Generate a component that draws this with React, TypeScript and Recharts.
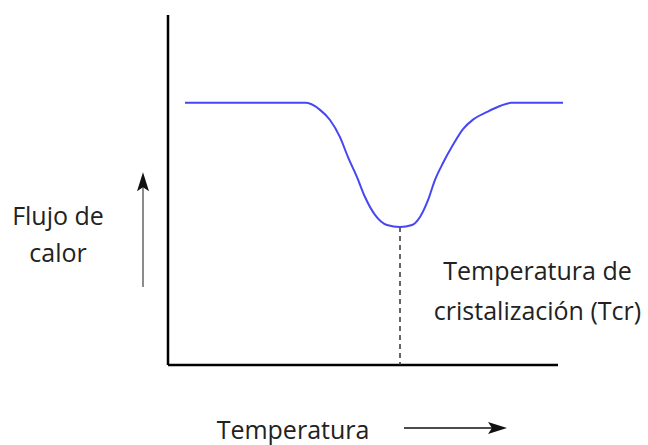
import { LineChart, Line, XAxis, YAxis, ReferenceLine } from 'recharts';

// curve: temperature (0-100) vs heat flow (0-100)
const temps = [4.25, 34.5, 38, 40.5, 43, 45, 47.25, 49.25, 51.75, 54.75, 58, 61, 63, 65, 66.75, 68.75, 71.25, 73.75, 76.25, 79.75, 83, 85.75, 98.75];
const flows = [74.9, 74.9, 72.9, 70, 65.1, 59.4, 53.7, 48, 42.9, 40, 39.4, 40, 42.3, 47.1, 52.9, 57.7, 62.9, 67.4, 70.1, 72.3, 74.0, 74.9, 74.9];

const tcr = { temp: 58, flow: 39.4 };
const axisEnd = { temp: 97.5, flow: 100 };
const flowArrow = { temp: -6.25, from: 22.3, to: 55.1 };
const tempArrow = { flow: -18, from: 59, to: 84.75 };

const leftLabel = ['Flujo de', 'calor'];
const rightLabel = ['Temperatura de', 'cristalización (Tcr)'];
const bottomLabel = 'Temperatura';

const data = temps.map((t, i) => ({ t, q: flows[i] }));

const W = 648;
const H = 445;
const font = '"Open Sans", sans-serif';

// arrow pointing up, drawn from the reference segment ends
const UpArrow = (p: any) => {
  const top = Math.min(p.y1, p.y2);
  const bot = Math.max(p.y1, p.y2);
  const x = p.x1;
  return (
    <g>
      <line x1={x} y1={bot} x2={x} y2={top + 12} stroke="#666" strokeWidth={1.5} />
      <path d={`M${x},${top} L${x - 6},${top + 19} L${x},${top + 15} L${x + 6},${top + 19} Z`} fill="#111" />
    </g>
  );
};

const RightArrow = (p: any) => {
  const left = Math.min(p.x1, p.x2);
  const right = Math.max(p.x1, p.x2);
  const y = p.y1;
  return (
    <g>
      <line x1={left} y1={y} x2={right - 12} y2={y} stroke="#111" strokeWidth={1.5} />
      <path d={`M${right},${y} L${right - 19},${y - 6} L${right - 15},${y} L${right - 19},${y + 6} Z`} fill="#111" />
    </g>
  );
};

export default function App() {
  return (
    <div style={{ position: 'absolute', left: 0, top: 0, width: W, height: H, background: '#fff' }}>
      <LineChart width={W} height={H} data={data} margin={{ top: 15, left: 168, right: 80, bottom: 80 }}>
        <XAxis dataKey="t" type="number" domain={[0, 100]} hide height={0} allowDataOverflow />
        <YAxis type="number" domain={[0, 100]} hide width={0} allowDataOverflow />
        <ReferenceLine segment={[{ x: 0, y: 0 }, { x: 0, y: axisEnd.flow }]} stroke="#000" strokeWidth={2.5} ifOverflow="visible" />
        <ReferenceLine segment={[{ x: 0, y: 0 }, { x: axisEnd.temp, y: 0 }]} stroke="#000" strokeWidth={2.5} ifOverflow="visible" />
        <ReferenceLine
          segment={[{ x: tcr.temp, y: tcr.flow }, { x: tcr.temp, y: 0 }]}
          stroke="#333"
          strokeWidth={1.5}
          strokeDasharray="5 4"
          ifOverflow="visible"
        />
        <ReferenceLine
          segment={[{ x: flowArrow.temp, y: flowArrow.from }, { x: flowArrow.temp, y: flowArrow.to }]}
          ifOverflow="visible"
          shape={UpArrow}
        />
        <ReferenceLine
          segment={[{ x: tempArrow.from, y: tempArrow.flow }, { x: tempArrow.to, y: tempArrow.flow }]}
          ifOverflow="visible"
          shape={RightArrow}
        />
        <Line type="monotone" dataKey="q" stroke="#4646f5" strokeWidth={2} dot={false} isAnimationActive={false} />
      </LineChart>
      <svg width={W} height={H} style={{ position: 'absolute', left: 0, top: 0, pointerEvents: 'none' }}>
        <g fontFamily={font} fontSize={25} fill="#222" textAnchor="middle">
          <text x={58} y={225}>{leftLabel[0]}</text>
          <text x={58} y={262}>{leftLabel[1]}</text>
          <text x={537.5} y={280}>{rightLabel[0]}</text>
          <text x={537.5} y={320}>{rightLabel[1]}</text>
          <text x={293} y={439}>{bottomLabel}</text>
        </g>
      </svg>
    </div>
  );
}
